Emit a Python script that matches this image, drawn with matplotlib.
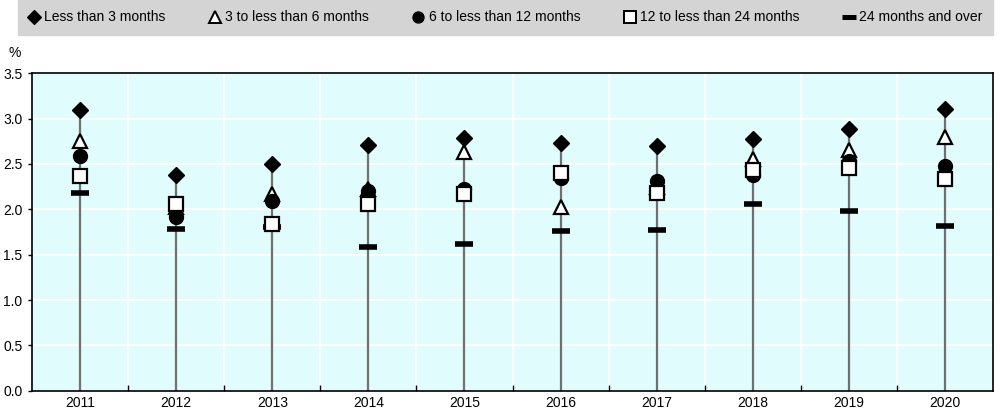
import matplotlib.pyplot as plt
from matplotlib.lines import Line2D

# -----------------------------------------------------------------------------
# Data
# -----------------------------------------------------------------------------

YEARS = ["2011", "2012", "2013", "2014", "2015", "2016", "2017", "2018", "2019", "2020"]

LESS_3M = [3.09, 2.38, 2.50, 2.71, 2.79, 2.73, 2.70, 2.77, 2.88, 3.10]
M3_TO_6 = [2.75, 2.03, 2.17, 2.22, 2.63, 2.03, 2.25, 2.55, 2.65, 2.80]
M6_TO_12 = [2.59, 1.92, 2.09, 2.20, 2.22, 2.35, 2.31, 2.38, 2.53, 2.48]
M12_TO_24 = [2.37, 2.06, 1.84, 2.06, 2.17, 2.40, 2.18, 2.43, 2.46, 2.33]
M24_PLUS = [2.18, 1.78, 1.81, 1.59, 1.62, 1.76, 1.77, 2.06, 1.98, 1.82]

SERIES = [
    ("Less than 3 months", LESS_3M),
    ("3 to less than 6 months", M3_TO_6),
    ("6 to less than 12 months", M6_TO_12),
    ("12 to less than 24 months", M12_TO_24),
    ("24 months and over", M24_PLUS),
]

# -----------------------------------------------------------------------------
# Style
# -----------------------------------------------------------------------------

plt.rcParams["font.family"] = ["Liberation Sans", "DejaVu Sans"]

FONT_SIZE = 10
BG = "#E1FCFC"
LEGEND_BG = "#D4D4D4"
STEM = "#707070"

MARKERS = {
    "Less than 3 months": dict(marker="D", ms=8.5, mfc="black", mec="black", mew=1, z=7),
    "3 to less than 6 months": dict(marker="^", ms=10, mfc="white", mec="black", mew=1.6, z=4),
    "6 to less than 12 months": dict(marker="o", ms=10, mfc="black", mec="black", mew=1, z=5),
    "12 to less than 24 months": dict(marker="s", ms=10, mfc="white", mec="black", mew=1.6, z=6),
    "24 months and over": dict(marker="_", ms=13, mfc="black", mec="black", mew=4, z=3),
}


def plot():
    fig = plt.figure(figsize=(10, 4.11), dpi=100)
    ax = fig.add_axes([0.032, 0.049, 0.961, 0.773])
    ax.set_facecolor(BG)

    x = list(range(len(YEARS)))

    # stems from zero to the highest value
    tops = [max(vals) for vals in zip(*[s[1] for s in SERIES])]
    ax.vlines(x, 0, tops, color=STEM, lw=1.6, zorder=2)

    handles = []
    for name, vals in SERIES:
        st = MARKERS[name]
        ax.plot(x, vals, ls="none", marker=st["marker"], ms=st["ms"],
                mfc=st["mfc"], mec=st["mec"], mew=st["mew"], zorder=st["z"])
        handles.append(Line2D([], [], ls="none", marker=st["marker"],
                              ms=st["ms"] * 0.8, mfc=st["mfc"], mec=st["mec"],
                              mew=st["mew"] * 0.9, label=name))

    ax.set_xlim(-0.5, len(YEARS) - 0.5)
    ax.set_ylim(0, 3.5)
    ax.set_yticks([0, 0.5, 1.0, 1.5, 2.0, 2.5, 3.0, 3.5])
    ax.set_yticklabels([f"{v:.1f}" for v in ax.get_yticks()], fontsize=FONT_SIZE)
    ax.set_xticks(x)
    ax.set_xticklabels(YEARS, fontsize=FONT_SIZE)
    ax.set_xticks([i + 0.5 for i in x[:-1]], minor=True)

    ax.tick_params(axis="x", which="major", length=0, pad=4)
    ax.tick_params(axis="x", which="minor", direction="in", length=4, width=1)
    ax.tick_params(axis="y", direction="out", length=3, width=1, pad=4)

    ax.grid(False)
    for yv in [0.5, 1.0, 1.5, 2.0, 2.5, 3.0]:
        ax.axhline(yv, color="white", lw=1.3, zorder=1)
    for xv in [i + 0.5 for i in x[:-1]]:
        ax.axvline(xv, color="white", lw=1.3, zorder=1)

    for side in ["left", "bottom", "top", "right"]:
        ax.spines[side].set_linewidth(1.2)
        ax.spines[side].set_color("black")

    fig.text(0.015, 0.871, "%", fontsize=FONT_SIZE, ha="center", va="center")

    leg = fig.legend(
        handles=handles,
        loc="upper left",
        bbox_to_anchor=(0.018, 0.922, 0.975, 0.078),
        mode="expand",
        ncol=5,
        fontsize=FONT_SIZE,
        frameon=True,
        fancybox=False,
        handlelength=0.8,
        handletextpad=0.35,
        borderaxespad=0,
        borderpad=0.75,
    )
    leg.get_frame().set_facecolor(LEGEND_BG)
    leg.get_frame().set_edgecolor(LEGEND_BG)
    leg.get_frame().set_alpha(1)

    fig.savefig("out.png", dpi=100)
    plt.close(fig)


if __name__ == "__main__":
    plot()
